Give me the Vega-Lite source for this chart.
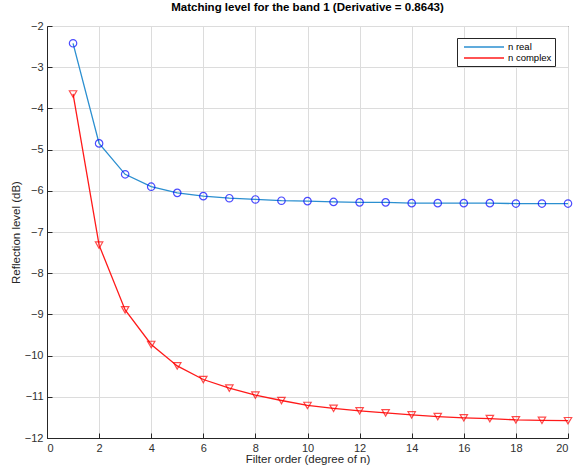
{
  "$schema": "https://vega.github.io/schema/vega-lite/v6.json",
  "width": 521,
  "height": 412,
  "autosize": {"type": "none"},
  "padding": {"left": 47, "top": 26, "right": 8, "bottom": 27},
  "background": "white",
  "config": {
    "font": "Liberation Sans",
    "view": {"stroke": "#262626", "strokeWidth": 1},
    "axis": {
      "gridColor": "#dcdcdc",
      "gridWidth": 1,
      "domainColor": "#262626",
      "tickColor": "#262626",
      "labelColor": "#303030",
      "labelFontSize": 11,
      "titleFontSize": 11.5,
      "titleFontWeight": "normal",
      "titleColor": "#262626"
    }
  },
  "title": {
    "text": "Matching level for the band 1 (Derivative = 0.8643)",
    "fontSize": 11.5,
    "fontWeight": "bold",
    "color": "#000000",
    "offset": 7,
    "anchor": "middle"
  },
  "data": {
    "values": [
      {"n": 1, "series": "n real", "db": -2.42},
      {"n": 2, "series": "n real", "db": -4.85},
      {"n": 3, "series": "n real", "db": -5.6},
      {"n": 4, "series": "n real", "db": -5.9},
      {"n": 5, "series": "n real", "db": -6.05},
      {"n": 6, "series": "n real", "db": -6.13},
      {"n": 7, "series": "n real", "db": -6.18},
      {"n": 8, "series": "n real", "db": -6.21},
      {"n": 9, "series": "n real", "db": -6.24},
      {"n": 10, "series": "n real", "db": -6.25},
      {"n": 11, "series": "n real", "db": -6.27},
      {"n": 12, "series": "n real", "db": -6.28},
      {"n": 13, "series": "n real", "db": -6.28},
      {"n": 14, "series": "n real", "db": -6.3},
      {"n": 15, "series": "n real", "db": -6.3},
      {"n": 16, "series": "n real", "db": -6.3},
      {"n": 17, "series": "n real", "db": -6.3},
      {"n": 18, "series": "n real", "db": -6.31},
      {"n": 19, "series": "n real", "db": -6.31},
      {"n": 20, "series": "n real", "db": -6.31},
      {"n": 1, "series": "n complex", "db": -3.65},
      {"n": 2, "series": "n complex", "db": -7.32},
      {"n": 3, "series": "n complex", "db": -8.89},
      {"n": 4, "series": "n complex", "db": -9.73},
      {"n": 5, "series": "n complex", "db": -10.25},
      {"n": 6, "series": "n complex", "db": -10.58},
      {"n": 7, "series": "n complex", "db": -10.79},
      {"n": 8, "series": "n complex", "db": -10.96},
      {"n": 9, "series": "n complex", "db": -11.09},
      {"n": 10, "series": "n complex", "db": -11.21},
      {"n": 11, "series": "n complex", "db": -11.28},
      {"n": 12, "series": "n complex", "db": -11.34},
      {"n": 13, "series": "n complex", "db": -11.39},
      {"n": 14, "series": "n complex", "db": -11.44},
      {"n": 15, "series": "n complex", "db": -11.48},
      {"n": 16, "series": "n complex", "db": -11.51},
      {"n": 17, "series": "n complex", "db": -11.53},
      {"n": 18, "series": "n complex", "db": -11.56},
      {"n": 19, "series": "n complex", "db": -11.57},
      {"n": 20, "series": "n complex", "db": -11.58}
    ]
  },
  "layer": [
    {
      "mark": {"type": "line", "strokeWidth": 1.3},
      "encoding": {
        "x": {
          "field": "n", "type": "quantitative",
          "scale": {"domain": [0, 20], "nice": false, "zero": false},
          "axis": {
            "title": "Filter order (degree of n)",
            "values": [0, 2, 4, 6, 8, 10, 12, 14, 16, 18, 20],
            "tickSize": -5,
            "labelPadding": 9,
            "titlePadding": 0
          }
        },
        "y": {
          "field": "db", "type": "quantitative",
          "scale": {"domain": [-12, -2], "nice": false, "zero": false},
          "axis": {
            "title": "Reflection level (dB)",
            "values": [-12, -11, -10, -9, -8, -7, -6, -5, -4, -3, -2],
            "tickSize": -5,
            "labelPadding": 9,
            "titlePadding": 3
          }
        },
        "color": {
          "field": "series", "type": "nominal",
          "scale": {"domain": ["n real", "n complex"], "range": ["#2b8fd0", "#ff1a1a"]},
          "legend": {
            "title": null,
            "orient": "none",
            "legendX": 410,
            "legendY": 12,
            "symbolType": "M-4,0H4",
            "symbolSize": 100,
            "symbolStrokeWidth": 1.5,
            "symbolOffset": 18,
            "labelFontSize": 9.5,
            "labelColor": "#000000",
            "labelOffset": 18,
            "rowPadding": 0,
            "padding": 3,
            "strokeColor": "#262626",
            "fillColor": "white"
          }
        }
      }
    },
    {
      "transform": [{"filter": "datum.series === 'n real'"}],
      "mark": {"type": "point", "filled": false, "strokeWidth": 1.2, "size": 55, "shape": "circle", "stroke": "#0000ff", "color": "#0000ff"},
      "encoding": {
        "x": {"field": "n", "type": "quantitative"},
        "y": {"field": "db", "type": "quantitative"}
      }
    },
    {
      "transform": [{"filter": "datum.series === 'n complex'"}],
      "mark": {"type": "point", "filled": false, "strokeWidth": 1.2, "size": 55, "shape": "triangle-down", "stroke": "#ff0000", "color": "#ff0000"},
      "encoding": {
        "x": {"field": "n", "type": "quantitative"},
        "y": {"field": "db", "type": "quantitative"}
      }
    }
  ]
}
